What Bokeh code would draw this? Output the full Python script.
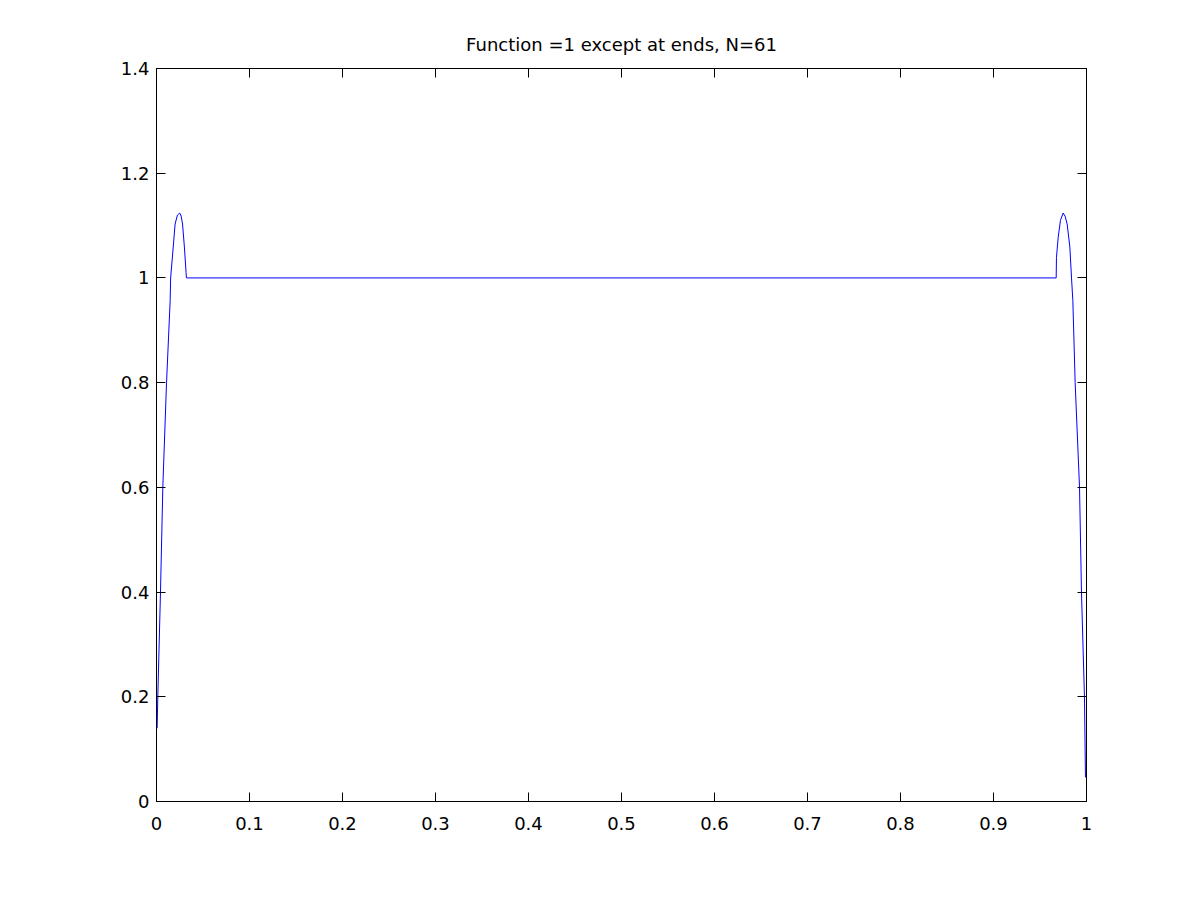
from bokeh.plotting import figure
from bokeh.models import LinearAxis, FixedTicker, CustomJSTickFormatter, Range1d
from bokeh.embed import file_html
from bokeh.resources import INLINE

# ---- data ----
x_vals = [0.0007, 0.0014, 0.0043, 0.0068, 0.0108, 0.0147, 0.0152, 0.0180, 0.0200,
          0.0225, 0.0250, 0.0265, 0.0280, 0.0300, 0.0318, 0.0322, 0.0330,
          0.9674, 0.9677, 0.9696, 0.9720, 0.9749, 0.9770, 0.9792, 0.9821,
          0.9839, 0.9853, 0.9878, 0.9925, 0.9946, 0.9978, 0.9989]
y_vals = [0.140, 0.200, 0.400, 0.600, 0.800, 0.957, 1.000, 1.059, 1.103,
          1.120, 1.124, 1.118, 1.103, 1.059, 1.010, 1.000, 1.000,
          1.000, 1.039, 1.078, 1.110, 1.124, 1.118, 1.103, 1.059,
          1.000, 0.957, 0.800, 0.600, 0.400, 0.200, 0.046]

x_ticks = [0, 0.1, 0.2, 0.3, 0.4, 0.5, 0.6, 0.7, 0.8, 0.9, 1.0]
y_ticks = [0, 0.2, 0.4, 0.6, 0.8, 1.0, 1.2, 1.4]
title_text = "Function =1 except at ends, N=61"

FONT = "DejaVu Sans"

p = figure(width=1184, height=884, output_backend="svg", toolbar_location=None,
           x_range=Range1d(0, 1), y_range=Range1d(0, 1.4),
           x_axis_location=None, y_axis_location=None,
           min_border_left=156, min_border_right=98,
           min_border_top=68, min_border_bottom=83,
           title=title_text)
p.title.align = "center"
p.title.text_font = FONT
p.title.text_font_size = "18px"
p.title.text_font_style = "normal"
p.title.text_color = "black"
p.title.standoff = 27

p.xgrid.visible = False
p.ygrid.visible = False
p.outline_line_color = "black"
p.background_fill_color = "white"
p.border_fill_color = "white"

fmt = CustomJSTickFormatter(code="return String(Number(tick.toFixed(2)));")
blank = CustomJSTickFormatter(code="return '';")

def style(ax, labels, standoff):
    ax.axis_line_color = "black"
    ax.major_tick_line_color = "black"
    ax.major_tick_in = 9
    ax.major_tick_out = 0
    ax.minor_tick_line_color = None
    ax.major_label_text_font = FONT
    ax.major_label_text_font_size = "18px"
    ax.major_label_text_color = "black"
    ax.formatter = fmt if labels else blank
    ax.major_label_standoff = standoff

for loc, tks, lab, so in [("below", x_ticks, True, 15), ("above", x_ticks, False, 0),
                          ("left", y_ticks, True, 7), ("right", y_ticks, False, 0)]:
    ax = LinearAxis(ticker=FixedTicker(ticks=tks))
    style(ax, lab, so)
    p.add_layout(ax, loc)

p.line(x_vals, y_vals, line_color="#0000ff", line_width=1)

open("out.html", "w").write(file_html(p, INLINE))
